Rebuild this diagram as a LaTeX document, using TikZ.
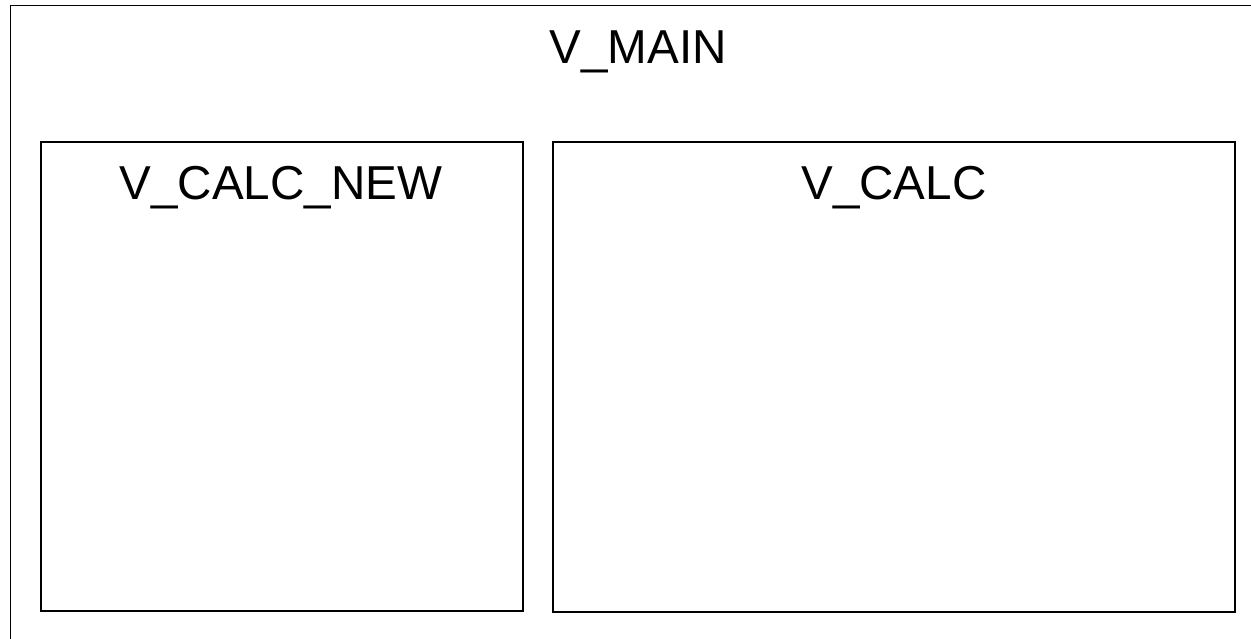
\documentclass[tikz,border=0pt]{standalone}
\usepackage{fontspec}
\setmainfont{Liberation Sans}
\begin{document}
\begin{tikzpicture}[x=1pt,y=-1pt,
  frame/.style={draw=black,line width=1.8pt},
  lbl/.style={font=\fontsize{47.6}{52}\selectfont,anchor=base,inner sep=0pt}]
\useasboundingbox (0,0) rectangle (1251,638);
\draw[frame] (10.5,5.5) rectangle (1265,655);
\node[lbl] (main) at (638,63) {V\_MAIN};
\draw[frame] (41,142) rectangle (523,611);
\node[lbl] (calcnew) at (281,199) {V\_CALC\_NEW};
\draw[frame] (553,142) rectangle (1235,612);
\node[lbl] (calc) at (894,199) {V\_CALC};
\end{tikzpicture}
\end{document}
